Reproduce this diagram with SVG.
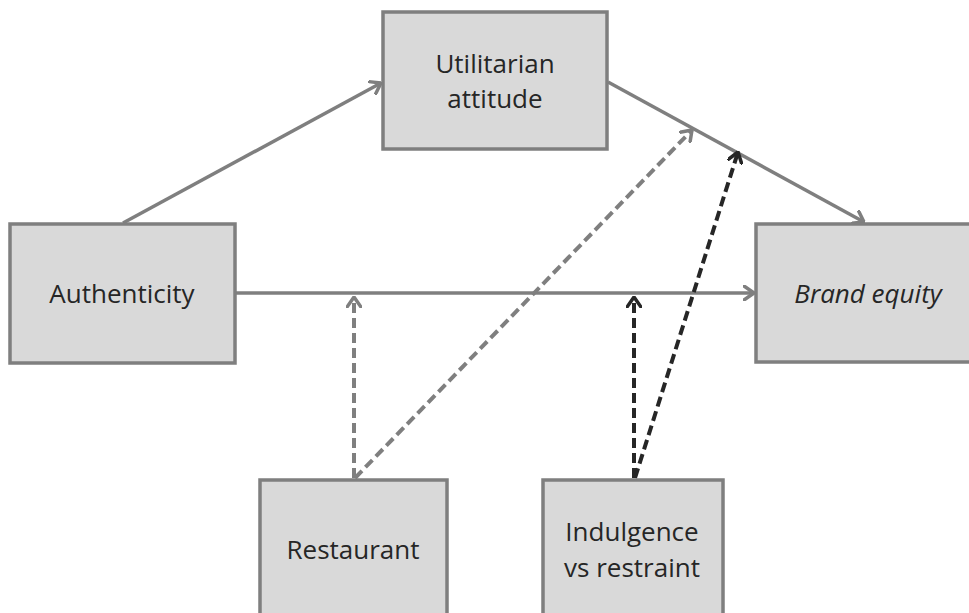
<svg xmlns="http://www.w3.org/2000/svg" width="969" height="613" viewBox="0 0 969 613">
<style>
.box{fill:#d9d9d9;stroke:#7f7f7f;stroke-width:3.5}
.lbl{font-family:"Open Sans","Noto Sans",sans-serif;font-size:26px;fill:#262626;text-anchor:middle}
.solid{stroke:#7f7f7f;stroke-width:3.5;fill:none}
.dg{stroke:#7f7f7f;stroke-width:4;fill:none;stroke-dasharray:10 5}
.dk{stroke:#262626;stroke-width:4;fill:none;stroke-dasharray:10 5}
</style>
<defs>
<marker id="ag" viewBox="0 0 12 16" refX="11" refY="8" markerWidth="12" markerHeight="16" markerUnits="userSpaceOnUse" orient="auto">
<path d="M1,1 L11,8 L1,15" fill="none" stroke="#7f7f7f" stroke-width="3.5" stroke-linecap="round" stroke-linejoin="round"/>
</marker>
<marker id="ak" viewBox="0 0 12 16" refX="11" refY="8" markerWidth="12" markerHeight="16" markerUnits="userSpaceOnUse" orient="auto">
<path d="M1,1 L11,8 L1,15" fill="none" stroke="#262626" stroke-width="3.5" stroke-linecap="round" stroke-linejoin="round"/>
</marker>
</defs>
<rect width="969" height="613" fill="#ffffff"/>
<g id="connectors">
<line class="solid" x1="123" y1="223" x2="381" y2="83" marker-end="url(#ag)"/>
<line class="solid" x1="608" y1="82" x2="864" y2="222" marker-end="url(#ag)"/>
<line class="solid" x1="235" y1="293" x2="754" y2="293" marker-end="url(#ag)"/>
<line class="dg" x1="354" y1="478" x2="354" y2="297" marker-end="url(#ag)"/>
<line class="dg" x1="355" y1="478" x2="692" y2="130" marker-end="url(#ag)"/>
<line class="dk" x1="634" y1="478" x2="634" y2="297" marker-end="url(#ak)"/>
<line class="dk" x1="635" y1="478" x2="738" y2="152" marker-end="url(#ak)"/>
</g>
<g id="utilitarian">
<rect class="box" x="383" y="12" width="224" height="137"/>
<text class="lbl" x="495" y="73">Utilitarian</text>
<text class="lbl" x="495" y="108">attitude</text>
</g>
<g id="authenticity">
<rect class="box" x="10" y="224" width="225" height="139"/>
<text class="lbl" x="122" y="303">Authenticity</text>
</g>
<g id="brand-equity">
<rect class="box" x="756" y="224" width="230" height="138"/>
<text class="lbl" x="868" y="303" font-style="italic">Brand equity</text>
</g>
<g id="restaurant">
<rect class="box" x="260" y="480" width="187" height="150"/>
<text class="lbl" x="353" y="559">Restaurant</text>
</g>
<g id="indulgence">
<rect class="box" x="543" y="480" width="180" height="150"/>
<text class="lbl" x="632" y="541">Indulgence</text>
<text class="lbl" x="632" y="577">vs restraint</text>
</g>
</svg>
